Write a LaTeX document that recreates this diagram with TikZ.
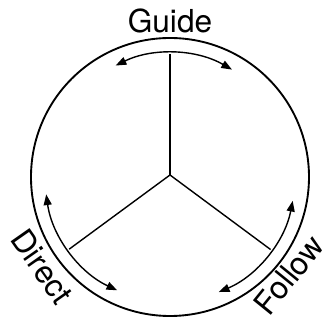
\documentclass[tikz,border=0pt]{standalone}
\usepackage{fontspec}
\setmainfont{TeX Gyre Heros}
\usetikzlibrary{arrows.meta}

\begin{document}
\begin{tikzpicture}[x=0.03cm, y=0.03cm, >={Triangle[length=0.32cm, width=0.24cm]},
    label/.style={font=\fontsize{27}{32}\selectfont, inner sep=0pt}]
    \useasboundingbox (-170,-143) rectangle (155,177);
    % Define coordinates
    \coordinate (C) at (0,0);
    \coordinate (H) at (0,2);
    \coordinate (T) at (90:123);
    \coordinate (L) at (215.6:124);
    \coordinate (R) at (-35.8:124);

    % Draw the circle and the spokes
    \draw[line width=1.6pt] (C) circle[radius=139];
    \draw[line width=1.2pt] (H) -- (T);
    \draw[line width=1.2pt] (H) -- (L);
    \draw[line width=1.2pt] (H) -- (R);

    % Draw the double arrows
    \coordinate (ga) at (116:124);
    \coordinate (da) at (188:125);
    \coordinate (fa) at (-67:125);
    \draw[<->, line width=1.2pt] (ga) arc[start angle=116, end angle=60, radius=124];
    \draw[<->, line width=1.2pt] (da) arc[start angle=188, end angle=245, radius=125];
    \draw[<->, line width=1.2pt] (fa) arc[start angle=-67, end angle=-11, radius=125];

    % Label the parts
    \node[label] (guide) at (90:156) {Guide};
    \node[label, rotate=-55] (direct) at (215:156) {Direct};
    \node[label, rotate=51] (follow) at (-39.5:154) {Follow};
\end{tikzpicture}
\end{document}
